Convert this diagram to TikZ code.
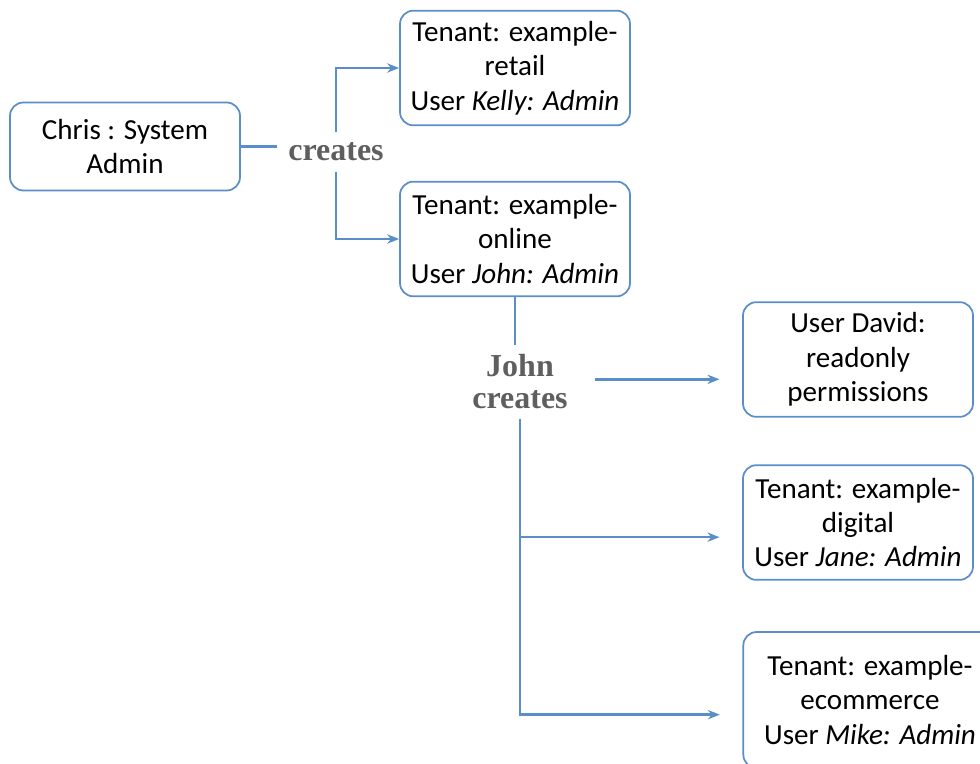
\documentclass[tikz,border=0pt]{standalone}
\usepackage{fontspec}
\setmainfont{Carlito}
\newfontfamily\labelfont{Liberation Serif}
\usetikzlibrary{arrows.meta}
\definecolor{linkblue}{HTML}{5B8DC9}
\definecolor{labelgray}{HTML}{5F5F5F}
\tikzset{
  rolebox/.style={rectangle,rounded corners=10pt,draw=linkblue,line width=1.3pt,fill=white,align=center,font=\fontsize{21.8}{25.8}\selectfont,minimum width=172.5pt,minimum height=86pt,inner sep=2pt},
  actlabel/.style={font=\labelfont\bfseries\fontsize{24}{24}\selectfont,text=labelgray,align=center},
  link/.style={draw=linkblue,line width=1.8pt},
  arrow/.style={link,-{Stealth[length=9pt,width=7pt]}}
}

\begin{document}
\begin{tikzpicture}[x=0.75pt,y=-0.75pt]
  \useasboundingbox (0,0) rectangle (980,763);
  \node[rolebox,minimum height=66pt] (chris) at (125,146.5) {Chris : System\\Admin};
  \node[rolebox] (retail) at (515,68) {Tenant: example-\\retail\\User \textit{Kelly: Admin}};
  \node[rolebox] (online) at (515,239) {Tenant: example-\\online\\User \textit{John: Admin}};
  \node[rolebox] (david) at (858,359.5) {User David:\\readonly\\permissions};
  \node[rolebox] (digital) at (858,522.5) {Tenant: example-\\digital\\User \textit{Jane: Admin}};
  \node[rolebox,minimum width=190pt,minimum height=102pt] (ecomm) at (870,700) {Tenant: example-\\ecommerce\\User \textit{Mike: Admin}};

  \node[actlabel,inner sep=8pt] (creates) at (336,152) {creates};
  \node[actlabel,inner xsep=20pt,inner ysep=7pt] (john) at (520,382) {John\\creates};

  % chris creates the first two tenants
  \draw[link] (chris.east) -- (chris.east -| creates.west);
  \draw[arrow] (creates.north) |- (retail.west);
  \draw[arrow] (creates.south) |- (online.west);

  % john creates the rest
  \coordinate (digitalin) at ([yshift=-11pt]digital.west);
  \draw[link] (online.south) -- (online.south |- john.north);
  \draw[arrow,shorten >=17pt] ([yshift=2pt]john.east) -- ([yshift=2pt]john.east -| david.west);
  \draw[arrow,shorten >=17pt] (john.south) |- ([yshift=-11pt]ecomm.west);
  \draw[arrow,shorten >=17pt] (john.south |- digitalin) -- (digitalin);
\end{tikzpicture}
\end{document}
